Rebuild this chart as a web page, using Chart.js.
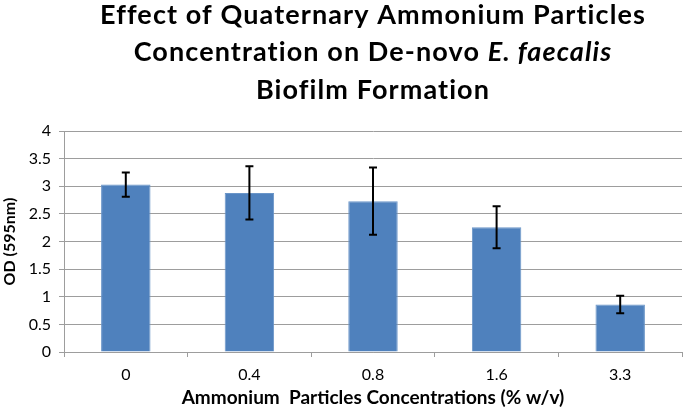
<!DOCTYPE html>
<html>
<head>
<meta charset="utf-8">
<script src="https://cdn.jsdelivr.net/npm/chart.js@4"></script>
<style>
  html, body { margin: 0; padding: 0; background: #fff; }
  #wrap { width: 685px; height: 409px; }
</style>
</head>
<body>
<div id="wrap"><canvas id="chart"></canvas></div>
<script>
"use strict";

const concentrations = ["0", "0.4", "0.8", "1.6", "3.3"];
const odValues = [3.03, 2.88, 2.73, 2.26, 0.86];
const odErrors = [0.22, 0.48, 0.61, 0.38, 0.16];

const FONT = "Lato, 'Liberation Sans', sans-serif";
const GRID = "#9d9d9d";

// title with italic species name, drawn by hand
const titlePlugin = {
    id: "titleLines",
    afterDraw(chart) {
        const ctx = chart.ctx;
        const cx = (chart.chartArea.left + chart.chartArea.right) / 2;
        const lines = [
            [["Effect of Quaternary Ammonium Particles", false]],
            [["Concentration on De-novo ", false], ["E. faecalis", true]],
            [["Biofilm Formation", false]]
        ];
        const baselines = [24, 61, 99];
        ctx.save();
        ctx.fillStyle = "#000";
        ctx.textBaseline = "alphabetic";
        ctx.textAlign = "left";
        ctx.letterSpacing = "1.1px";
        lines.forEach((parts, i) => {
            let total = 0;
            parts.forEach(([txt, it]) => {
                ctx.font = (it ? "italic " : "") + "bold 27px " + FONT;
                total += ctx.measureText(txt).width;
            });
            let x = cx - total / 2;
            parts.forEach(([txt, it]) => {
                ctx.font = (it ? "italic " : "") + "bold 27px " + FONT;
                ctx.fillText(txt, x, baselines[i]);
                x += ctx.measureText(txt).width;
            });
        });
        ctx.restore();
    }
};

const errorBarPlugin = {
    id: "errorBars",
    afterDatasetsDraw(chart) {
        const ctx = chart.ctx;
        const meta = chart.getDatasetMeta(0);
        const y = chart.scales.y;
        ctx.save();
        ctx.strokeStyle = "#000";
        ctx.lineWidth = 2;
        meta.data.forEach((bar, i) => {
            const top = y.getPixelForValue(odValues[i] + odErrors[i]);
            const bottom = y.getPixelForValue(odValues[i] - odErrors[i]);
            ctx.beginPath();
            ctx.moveTo(bar.x, top);
            ctx.lineTo(bar.x, bottom);
            ctx.moveTo(bar.x - 4, top);
            ctx.lineTo(bar.x + 4, top);
            ctx.moveTo(bar.x - 4, bottom);
            ctx.lineTo(bar.x + 4, bottom);
            ctx.stroke();
        });
        ctx.restore();
    }
};

new Chart(document.getElementById("chart"), {
    type: "bar",
    data: {
        labels: concentrations,
        datasets: [{
            data: odValues,
            backgroundColor: "#4f81bd",
            borderColor: "#6a95c8",
            borderWidth: 1,
            barPercentage: 0.4,
            categoryPercentage: 1
        }]
    },
    options: {
        responsive: true,
        maintainAspectRatio: false,
        animation: false,
        layout: { padding: { top: 131, right: 3, bottom: 0, left: 0 } },
        plugins: {
            legend: { display: false },
            tooltip: { enabled: false }
        },
        scales: {
            x: {
                afterFit(scale) { scale.height = 57; },
                grid: { drawOnChartArea: false, drawTicks: true, tickLength: 5, color: GRID },
                border: { color: GRID, width: 1 },
                ticks: { color: "#000", font: { family: FONT, size: 16 }, padding: 8 },
                title: {
                    display: true,
                    text: "Ammonium  Particles Concentrations (% w/v)",
                    color: "#000",
                    font: { family: FONT, size: 19, weight: "bold" },
                    padding: { top: 0, bottom: 0 }
                }
            },
            y: {
                min: 0,
                max: 4,
                afterFit(scale) { scale.width = 64; },
                grid: { color: GRID, lineWidth: 1, tickLength: 5 },
                border: { color: GRID, width: 1 },
                ticks: {
                    stepSize: 0.5,
                    color: "#000",
                    font: { family: FONT, size: 16 },
                    padding: 8,
                    callback: (v) => String(v)
                },
                title: {
                    display: true,
                    text: "OD (595nm)",
                    color: "#000",
                    font: { family: FONT, size: 16, weight: "bold" },
                    padding: { top: 0, bottom: 2 }
                }
            }
        }
    },
    plugins: [titlePlugin, errorBarPlugin]
});
</script>
</body>
</html>
